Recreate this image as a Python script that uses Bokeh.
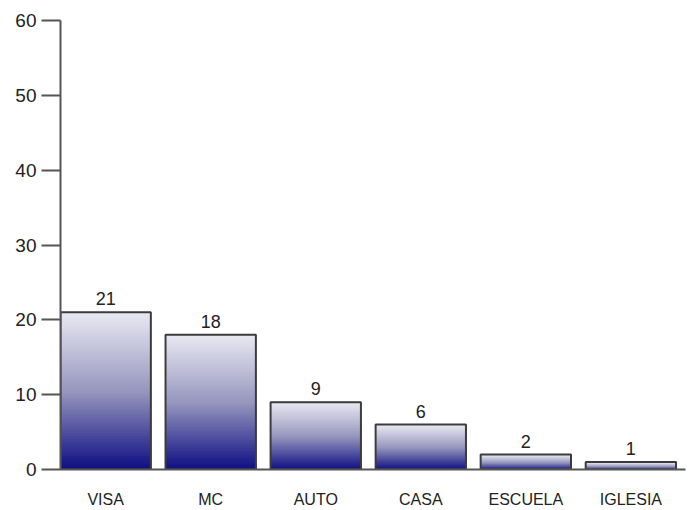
from bokeh.plotting import figure
from bokeh.models import FixedTicker, ColumnDataSource
from bokeh.embed import file_html
from bokeh.resources import INLINE
from bokeh.core.properties import value

categories = ["VISA", "MC", "AUTO", "CASA", "ESCUELA", "IGLESIA"]
counts = [21, 18, 9, 6, 2, 1]
y_ticks = [0, 10, 20, 30, 40, 50, 60]

FONT = "Liberation Sans"
xs = list(range(len(categories)))

p = figure(frame_width=625, frame_height=449, x_range=(-0.43, 5.52), y_range=(0, 60),
           output_backend="svg", toolbar_location=None,
           min_border_left=60, min_border_top=20, min_border_right=1, min_border_bottom=40)
p.outline_line_color = None
p.xgrid.visible = False
p.ygrid.visible = False
p.background_fill_color = "white"

# gradient fill: light lavender at top -> dark navy at bottom, per bar
def lerp(c1, c2, t):
    return tuple(int(round(a + (b - a) * t)) for a, b in zip(c1, c2))

top_c = (232, 232, 242)
mid_c = (150, 150, 190)
bot_c = (12, 12, 130)

def grad(t):  # t=0 bottom, t=1 top
    if t < 0.5:
        return lerp(bot_c, mid_c, t / 0.5)
    return lerp(mid_c, top_c, (t - 0.5) / 0.5)

N = 80
gx, gb, gt, gc = [], [], [], []
for x, v in zip(xs, counts):
    for k in range(N):
        gx.append(x)
        gb.append(v * k / N)
        gt.append(v * (k + 1) / N)
        r, g, b = grad((k + 0.5) / N)
        gc.append("#%02x%02x%02x" % (r, g, b))

p.vbar(x=gx, bottom=gb, top=gt, width=0.86, fill_color=gc, line_color=gc, line_width=1.2)
p.vbar(x=xs, top=counts, width=0.86, fill_color=None, line_color="#3c3c3c", line_width=2)

src = ColumnDataSource(dict(x=xs, y=counts, t=[str(c) for c in counts]))
p.text(x="x", y="y", text="t", source=src, text_align="center", text_baseline="bottom",
       y_offset=-7, text_font=value(FONT), text_font_size="18px", text_color="#222222")

p.xaxis.ticker = FixedTicker(ticks=xs)
p.xaxis.major_label_overrides = {i: c for i, c in zip(xs, categories)}
p.xaxis.major_tick_line_color = None
p.xaxis.major_tick_out = 0
p.xaxis.major_tick_in = 0
p.xaxis.minor_tick_line_color = None
p.xaxis.major_label_standoff = 21
p.xaxis.axis_line_color = "#555555"
p.xaxis.axis_line_width = 2
p.xaxis.major_label_text_font = FONT
p.xaxis.major_label_text_font_size = "16px"
p.xaxis.major_label_text_color = "#222222"

p.yaxis.ticker = FixedTicker(ticks=y_ticks)
p.yaxis.major_tick_out = 19
p.yaxis.major_tick_in = 0
p.yaxis.major_tick_line_width = 2
p.yaxis.major_tick_line_color = "#555555"
p.yaxis.minor_tick_line_color = None
p.yaxis.axis_line_color = "#555555"
p.yaxis.axis_line_width = 2
p.yaxis.major_label_standoff = 5
p.yaxis.major_label_text_font = FONT
p.yaxis.major_label_text_font_size = "19px"
p.yaxis.major_label_text_color = "#222222"

open("out.html", "w").write(file_html(p, INLINE))
